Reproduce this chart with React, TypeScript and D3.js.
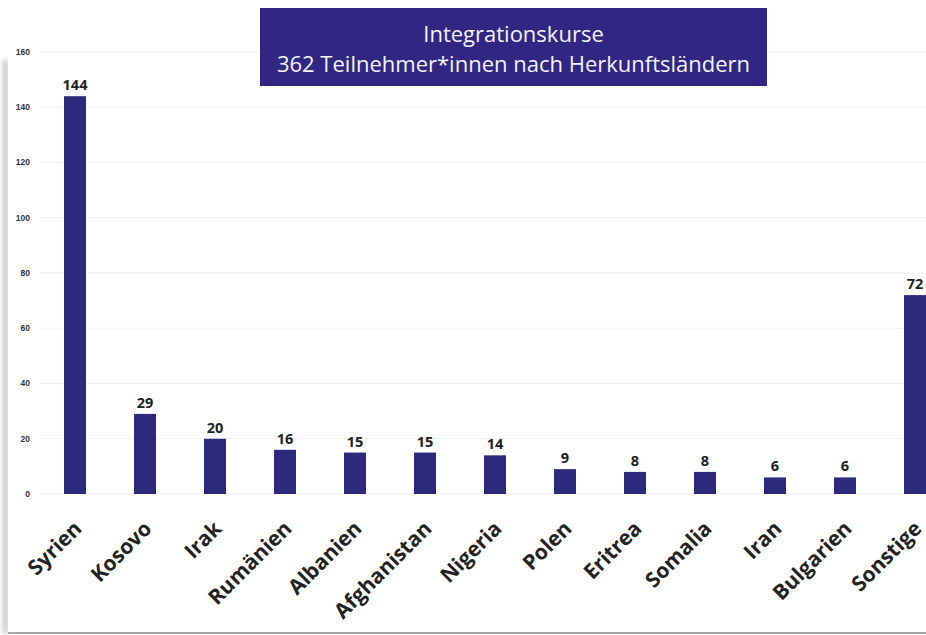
import React from "react";
import * as d3 from "d3";

const categories = ["Syrien","Kosovo","Irak","Rumänien","Albanien","Afghanistan","Nigeria","Polen","Eritrea","Somalia","Iran","Bulgarien","Sonstige"];
const values = [144,29,20,16,15,15,14,9,8,8,6,6,72];
const yTicks = [0,20,40,60,80,100,120,140,160];
const titleLines = ["Integrationskurse","362 Teilnehmer*innen nach Herkunftsländern"];

const W = 926, H = 635;
const BAR = "#2d2a7c";

export default function App() {
  const x = d3.scaleBand<string>().domain(categories).range([40, 950]).paddingInner(0.686).paddingOuter(0.343);
  const y = d3.scaleLinear().domain([0, 160]).range([494, 52]);
  return (
    <svg width={W} height={H} style={{ position: "absolute", left: 0, top: 0, background: "#fff" }}>
      <defs>
        <filter id="sh" x="-50%" y="-5%" width="200%" height="110%">
          <feGaussianBlur stdDeviation="2.5" />
        </filter>
      </defs>
      <rect x={3} y={60} width={5} height={574} fill="#c4c4c4" filter="url(#sh)" />
      <rect x={8} y={52} width={918} height={581} fill="#fff" />
      <line x1={8} x2={926} y1={633} y2={633} stroke="#8a8a8a" strokeWidth={1.5} />
      {yTicks.map(t => (
        <g key={t}>
          <line x1={40} x2={926} y1={y(t)} y2={y(t)} stroke="#eeeeee" strokeWidth={1.2} />
          <text x={30} y={y(t)} dy="0.35em" textAnchor="end" fontFamily="'Liberation Sans', Arial" fontWeight="bold" fontSize={8.5} fill="#333">{t}</text>
        </g>
      ))}
      {categories.map((c, i) => {
        const cx = (x(c) as number) + x.bandwidth() / 2;
        return (
          <g key={c}>
            <rect x={x(c)} y={y(values[i])} width={x.bandwidth()} height={494 - y(values[i])} fill={BAR} />
            <text x={cx} y={y(values[i]) - 6} textAnchor="middle" fontFamily="'Open Sans', sans-serif" fontWeight="bold" fontSize={14.5} fill="#222">{values[i]}</text>
            <text transform={`translate(${cx + 8},${530}) rotate(-45)`} textAnchor="end" fontFamily="'Open Sans', sans-serif" fontWeight="bold" fontSize={21} fill="#222">{c}</text>
          </g>
        );
      })}
      <rect x={260} y={8} width={507} height={78} fill="#312783" />
      {titleLines.map((l, i) => (
        <text key={i} x={513.5} y={42 + i * 30} textAnchor="middle" fontFamily="'Open Sans', sans-serif" fontWeight={400} fontSize={22} fill="#f2f2f8">{l}</text>
      ))}
    </svg>
  );
}
